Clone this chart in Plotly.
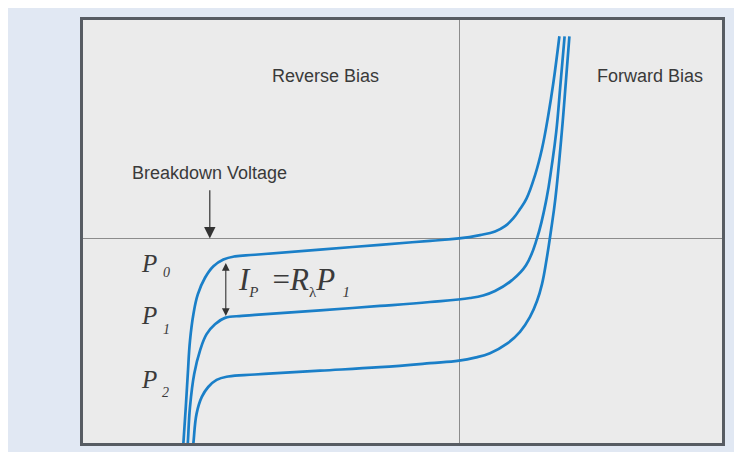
import plotly.graph_objects as go

# Data (arbitrary units: voltage V, current I), one list pair per illumination level
p0_v = [-6.91, -6.89, -6.83, -6.78, -6.725, -6.64, -6.53, -6.35, -6.14, -5.89, -5.60, -5.10,
        -3.475, -1.975, -0.725, 0.00, 0.525, 0.90, 1.15, 1.36, 1.525, 1.69, 1.90, 2.075, 2.23, 2.36, 2.51]
p0_i = [-5.40, -5.15, -4.24, -3.41, -2.575, -1.91, -1.41, -0.99, -0.70, -0.53, -0.45, -0.41,
        -0.28, -0.16, -0.06, 0.00, 0.085, 0.175, 0.31, 0.51, 0.74, 1.01, 1.59, 2.26, 3.09, 3.925, 5.09]

p1_v = [-6.80, -6.78, -6.725, -6.62, -6.475, -6.31, -6.10, -5.85, -5.43, -5.10,
        -3.475, -1.975, -0.725, 0.275, 0.60, 0.90, 1.325, 1.675, 1.95, 2.19, 2.32, 2.43, 2.54, 2.64]
p1_i = [-5.40, -5.15, -4.24, -3.41, -2.825, -2.41, -2.16, -2.00, -1.95, -1.925,
        -1.81, -1.70, -1.60, -1.50, -1.4375, -1.325, -1.05, -0.675, 0.00, 1.01, 1.84, 2.675, 3.925, 5.09]

p2_v = [-6.67, -6.64, -6.56, -6.43, -6.27, -6.06, -5.77, -5.10,
        -3.475, -1.975, -0.725, 0.00, 0.40, 0.775, 1.20, 1.525, 1.775, 1.95, 2.075, 2.19, 2.30,
        2.41, 2.57, 2.67, 2.76]
p2_i = [-5.40, -5.15, -4.41, -3.99, -3.74, -3.56, -3.475, -3.425,
        -3.33, -3.24, -3.14, -3.075, -3.00, -2.89, -2.65, -2.35, -1.975, -1.575, -1.15, -0.525, 0.20,
        1.01, 2.675, 3.925, 5.09]

series = [("P0", p0_v, p0_i), ("P1", p1_v, p1_i), ("P2", p2_v, p2_i)]

x_range = [-9.4, 6.575]
y_range = [-5.15, 5.5]

curve_color = "#1a7fc8"
text_color = "#3a3a3a"
sans = "Liberation Sans, Arial, sans-serif"
serif = "Liberation Serif, Times New Roman, serif"

fig = go.Figure()
for name, v, i in series:
    fig.add_trace(go.Scatter(x=v, y=i, mode="lines", name=name,
                             line=dict(color=curve_color, width=2.7, shape="spline", smoothing=1.2),
                             hoverinfo="skip"))

W, H = 742, 452
ml, mr, mt, mb = 75, 28, 9, 17

sub = "<sub><span style='font-size:15px'>{}</span></sub>"
formula = ("<i>I</i>" + sub.format("<i>P</i>") + " &#8201;=<i>R</i>" + sub.format("λ")
           + "<i>P</i>" + sub.format("  <i>1</i>"))

annotations = [
    dict(x=-3.33, y=4.1, text="Reverse Bias", showarrow=False,
         font=dict(family=sans, size=18, color=text_color)),
    dict(x=4.78, y=4.1, text="Forward Bias", showarrow=False,
         font=dict(family=sans, size=18, color=text_color)),
    dict(x=-6.23, y=1.65, text="Breakdown Voltage", showarrow=False,
         font=dict(family=sans, size=18, color=text_color)),
    # breakdown arrow
    dict(x=-6.23, y=0.0, ax=-6.23, ay=1.25, axref="x", ayref="y", xref="x", yref="y",
         text="", showarrow=True, arrowhead=2, arrowsize=1.9, arrowwidth=1.2, arrowcolor="#333333"),
    # double-headed photocurrent arrow
    dict(x=-5.83, y=-1.95, ax=-5.83, ay=-0.58, axref="x", ayref="y", xref="x", yref="y",
         text="", showarrow=True, arrowhead=2, arrowside="end+start", arrowsize=1.4,
         arrowwidth=1.1, arrowcolor="#333333"),
    # P labels
    dict(x=-8.0, y=-0.62, text="<i>P</i>", showarrow=False, xanchor="left",
         font=dict(family=serif, size=25, color=text_color)),
    dict(x=-7.45, y=-0.85, text="<i>0</i>", showarrow=False, xanchor="left",
         font=dict(family=serif, size=14, color=text_color)),
    dict(x=-8.0, y=-1.95, text="<i>P</i>", showarrow=False, xanchor="left",
         font=dict(family=serif, size=25, color=text_color)),
    dict(x=-7.45, y=-2.28, text="<i>1</i>", showarrow=False, xanchor="left",
         font=dict(family=serif, size=14, color=text_color)),
    dict(x=-8.0, y=-3.55, text="<i>P</i>", showarrow=False, xanchor="left",
         font=dict(family=serif, size=25, color=text_color)),
    dict(x=-7.48, y=-3.88, text="<i>2</i>", showarrow=False, xanchor="left",
         font=dict(family=serif, size=14, color=text_color)),
    # formula
    dict(x=-5.58, y=-1.07, text=formula, showarrow=False, xanchor="left",
         font=dict(family=serif, size=31, color=text_color)),
]

fig.update_layout(
    width=W, height=H,
    margin=dict(l=ml, r=mr, t=mt, b=mb),
    paper_bgcolor="#e1e8f3",
    plot_bgcolor="#ebebeb",
    showlegend=False,
    annotations=annotations,
    xaxis=dict(range=x_range, showgrid=False, showticklabels=False, ticks="",
               zeroline=True, zerolinecolor="#8c8c8c", zerolinewidth=1.3,
               showline=True, mirror=True, linecolor="#575c63", linewidth=2.5),
    yaxis=dict(range=y_range, showgrid=False, showticklabels=False, ticks="",
               zeroline=True, zerolinecolor="#8c8c8c", zerolinewidth=1.3,
               showline=True, mirror=True, linecolor="#575c63", linewidth=2.5),
)

fig.write_html("out.html")
